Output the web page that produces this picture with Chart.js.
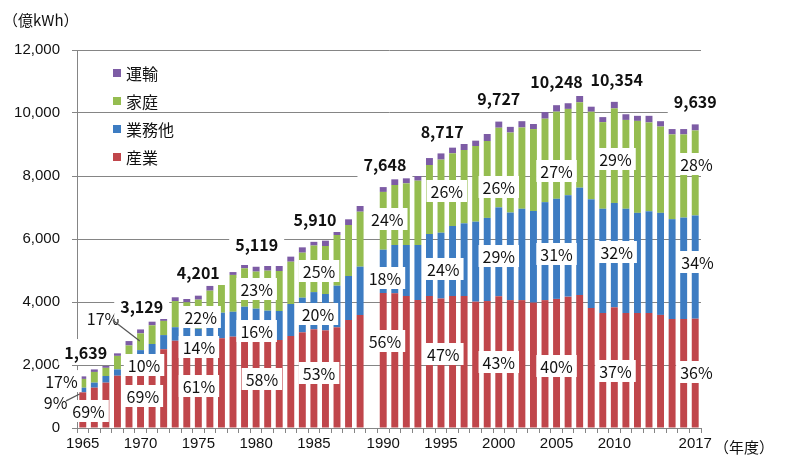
<!DOCTYPE html>
<html lang="ja">
<head>
<meta charset="utf-8">
<title>電力消費の推移</title>
<script src="https://cdn.jsdelivr.net/npm/chart.js@4.4.1/dist/chart.umd.min.js"></script>
<style>
  html, body { margin: 0; padding: 0; background: #fff; }
  #wrap { width: 786px; height: 466px; }
</style>
</head>
<body>
<div id="wrap"><canvas id="powerChart" width="786" height="466"></canvas></div>
<script>
// -------- Data (億kWh, 年度) --------
const years = [
  1965, 1966, 1967, 1968, 1969, 1970, 1971, 1972, 1973, 1974,
  1975, 1976, 1977, 1978, 1979, 1980, 1981, 1982, 1983, 1984,
  1985, 1986, 1987, 1988, 1989, 1990, 1991, 1992, 1993, 1994,
  1995, 1996, 1997, 1998, 1999, 2000, 2001, 2002, 2003, 2004,
  2005, 2006, 2007, 2008, 2009, 2010, 2011, 2012, 2013, 2014,
  2015, 2016, 2017
];
const industry = [
  1131, 1280, 1440, 1660, 1900, 2159, 2350, 2500, 2770, 2600,
  2563, 2700, 2850, 2900, 2900, 2969, 2950, 2794, 2920, 3037,
  3132, 3100, 3196, 3428, 3587, 4283, 4275, 4190, 4063, 4190,
  4110, 4190, 4190, 4010, 4030, 4183, 4060, 4060, 3980, 4060,
  4099, 4170, 4220, 3810, 3650, 3831, 3650, 3650, 3650, 3590,
  3460, 3460, 3470
];
const commercial = [
  148, 160, 210, 200, 280, 313, 317, 450, 430, 600,
  588, 600, 810, 790, 950, 819, 775, 920, 1017, 1100,
  1182, 1154, 1322, 1397, 1535, 1377, 1535, 1620, 1747, 1969,
  2090, 2223, 2307, 2540, 2640, 2821, 2780, 2900, 2910, 3110,
  3177, 3220, 3410, 3450, 3310, 3313, 3310, 3180, 3230, 3240,
  3170, 3220, 3277
];
const household = [
  279, 340, 260, 430, 440, 532, 593, 450, 830, 790,
  924, 1060, 880, 1170, 1220, 1177, 1270, 1270, 1343, 1429,
  1478, 1524, 1609, 1619, 1745, 1835, 1904, 1957, 2042, 2190,
  2320, 2307, 2328, 2402, 2441, 2529, 2540, 2580, 2600, 2650,
  2767, 2740, 2710, 2780, 2750, 3003, 2820, 2920, 2820, 2740,
  2690, 2640, 2699
];
const transport = [
  81, 80, 60, 80, 140, 125, 115, 100, 120, 105,
  126, 150, 140, 90, 105, 154, 148, 159, 160, 169,
  118, 169, 159, 181, 181, 153, 180, 159, 148, 221,
  197, 180, 191, 170, 222, 194, 180, 200, 160, 210,
  205, 180, 200, 160, 160, 207, 180, 160, 210, 170,
  170, 170, 193
];
const gapAfter = 1989;   // statistical break: one empty slot between 1989 and 1990
const yearTicks = ['1965', '1970', '1975', '1980', '1985', '1990', '1995', '2000', '2005', '2010', '2017'];
const yMax = 12000;
const yStep = 2000;

// total labels: [year, value, text]
const totalLabels = [
  [1965.25, 2413, '1,639'],
  [1970.1, 3873, '3,129'],
  [1975, 4952, '4,201'],
  [1980.05, 5841, '5,119'],
  [1985.1, 6635, '5,910'],
  [1990.15, 8381, '7,648'],
  [1995.1, 9429, '8,717'],
  [2000, 10476, '9,727'],
  [2005, 11016, '10,248'],
  [2010.2, 11079, '10,354'],
  [2017, 10381, '9,639']
];
// share labels: [year, value, text]
const shareLabels = [
  [1963.15, 1490, '17%'], [1962.65, 825, '9%'], [1965.5, 540, '69%'],
  [1966.75, 3490, '17%'], [1970.3, 2000, '10%'], [1970.2, 1016, '69%'],
  [1975.2, 3524, '22%'], [1975.05, 2571, '14%'], [1975.05, 1333, '61%'],
  [1980.05, 4413, '23%'], [1980.05, 3079, '16%'], [1980.5, 1556, '58%'],
  [1985.45, 4984, '25%'], [1985.35, 3619, '20%'], [1985.45, 1746, '53%'],
  [1990.35, 6635, '24%'], [1990.15, 4762, '18%'], [1990.15, 2762, '56%'],
  [1995.5, 7524, '26%'], [1995.2, 5048, '24%'], [1995.2, 2349, '47%'],
  [2000, 7651, '26%'], [2000, 5460, '29%'], [2000, 2095, '43%'],
  [2005, 8159, '27%'], [2005, 5524, '31%'], [2005, 1968, '40%'],
  [2010.1, 8540, '29%'], [2010.2, 5587, '32%'], [2010.1, 1810, '37%'],
  [2017.1, 8381, '28%'], [2017.2, 5270, '34%'], [2017.1, 1778, '36%']
];
// leader lines: [year1, value1, year2, value2]
const leaders = [
  [1963.55, 860, 1964.73, 1079],
  [1967.6, 3420, 1969.93, 2762]
];

// -------- Build category slots (with the gap) --------
const slotLabels = [];
const withGap = arr => {
  const out = [];
  years.forEach((yr, i) => {
    out.push(arr[i]);
    if (yr === gapAfter) out.push(null);
  });
  return out;
};
years.forEach(yr => {
  slotLabels.push(String(yr));
  if (yr === gapAfter) slotLabels.push('');
});
const slotOf = yr => yr - years[0] + (yr > gapAfter + 0.5 ? 1 : 0);

const COLORS = {
  industry: '#C0464B',
  commercial: '#3D7CC2',
  household: '#95BD50',
  transport: '#7D5CA5'
};
const GRID = '#858585';
const JP = '"Noto Sans CJK JP", sans-serif';

// -------- Labels, leaders and legend --------
const labelPlugin = {
  id: 'labelPlugin',
  afterDatasetsDraw(chart) {
    const { ctx, chartArea, scales: { x, y } } = chart;
    const px = yr => x.getPixelForValue(slotOf(yr));
    ctx.save();
    ctx.setLineDash([]);

    const boxed = (list, font, padX, boxH) => {
      ctx.font = font;
      ctx.textAlign = 'center';
      ctx.textBaseline = 'middle';
      list.forEach(([yr, v, text]) => {
        const cx = px(yr);
        const cy = y.getPixelForValue(v);
        const w = ctx.measureText(text).width + padX * 2;
        ctx.fillStyle = '#fff';
        ctx.fillRect(cx - w / 2, cy - boxH / 2, w, boxH);
        ctx.fillStyle = '#111';
        ctx.fillText(text, cx, cy + 1);
      });
    };
    boxed(shareLabels, '16px ' + JP, 4, 22);
    boxed(totalLabels, 'bold 16px ' + JP, 6, 26);

    // leader lines from the small labels to their bar segments
    ctx.strokeStyle = '#555';
    ctx.lineWidth = 1.2;
    leaders.forEach(([x1, v1, x2, v2]) => {
      ctx.beginPath();
      ctx.moveTo(px(x1), y.getPixelForValue(v1));
      ctx.lineTo(px(x2), y.getPixelForValue(v2));
      ctx.stroke();
    });

    // legend (top to bottom)
    const items = [
      ['運輸', COLORS.transport],
      ['家庭', COLORS.household],
      ['業務他', COLORS.commercial],
      ['産業', COLORS.industry]
    ];
    ctx.font = '16px ' + JP;
    ctx.textAlign = 'left';
    ctx.textBaseline = 'middle';
    items.forEach(([name, col], i) => {
      const ly = chartArea.top + 23 + i * 28;
      const lx = chartArea.left + 36;
      ctx.fillStyle = col;
      ctx.fillRect(lx, ly - 4, 8, 8);
      ctx.fillStyle = '#111';
      ctx.fillText(name, lx + 13, ly + 1);
    });

    // axis titles
    ctx.font = '15px ' + JP;
    ctx.fillText('（億kWh）', 3, 20);
    ctx.fillText('（年度）', 714, 447);
    ctx.restore();
  }
};

const ds = (label, arr, color) => ({
  label,
  data: withGap(arr),
  backgroundColor: color,
  borderWidth: 0,
  barPercentage: 0.6,
  categoryPercentage: 1.0
});

new Chart(document.getElementById('powerChart'), {
  type: 'bar',
  data: {
    labels: slotLabels,
    datasets: [
      ds('産業', industry, COLORS.industry),
      ds('業務他', commercial, COLORS.commercial),
      ds('家庭', household, COLORS.household),
      ds('運輸', transport, COLORS.transport)
    ]
  },
  options: {
    responsive: false,
    animation: false,
    layout: { padding: { top: 50, right: 85, bottom: 0, left: 0 } },
    plugins: { legend: { display: false }, tooltip: { enabled: false } },
    scales: {
      x: {
        stacked: true,
        afterFit: s => { s.height = 38; },
        border: { display: true, color: GRID, width: 1 },
        grid: { drawOnChartArea: false, drawTicks: true, tickLength: 5, color: GRID, offset: true },
        ticks: {
          autoSkip: false,
          maxRotation: 0,
          padding: 2,
          color: '#111',
          font: { family: '"Liberation Sans", Arial, sans-serif', size: 15 },
          callback: function (val) {
            const lab = this.getLabelForValue(val);
            return yearTicks.includes(lab) ? lab : '';
          }
        }
      },
      y: {
        stacked: true,
        min: 0,
        max: yMax,
        afterFit: s => { s.width = 77; },
        border: { display: true, color: GRID, width: 1 },
        grid: {
          color: c => (c.tick && c.tick.value === 0 ? 'rgba(0,0,0,0)' : GRID),
          tickColor: GRID,
          borderDash: [4, 3],
          tickBorderDash: [1, 0],
          tickLength: 5,
          lineWidth: 1
        },
        ticks: {
          stepSize: yStep,
          padding: 12,
          color: '#111',
          font: { family: '"Liberation Sans", Arial, sans-serif', size: 15 },
          callback: v => v.toLocaleString('en-US')
        }
      }
    }
  },
  plugins: [labelPlugin]
});
</script>
</body>
</html>
